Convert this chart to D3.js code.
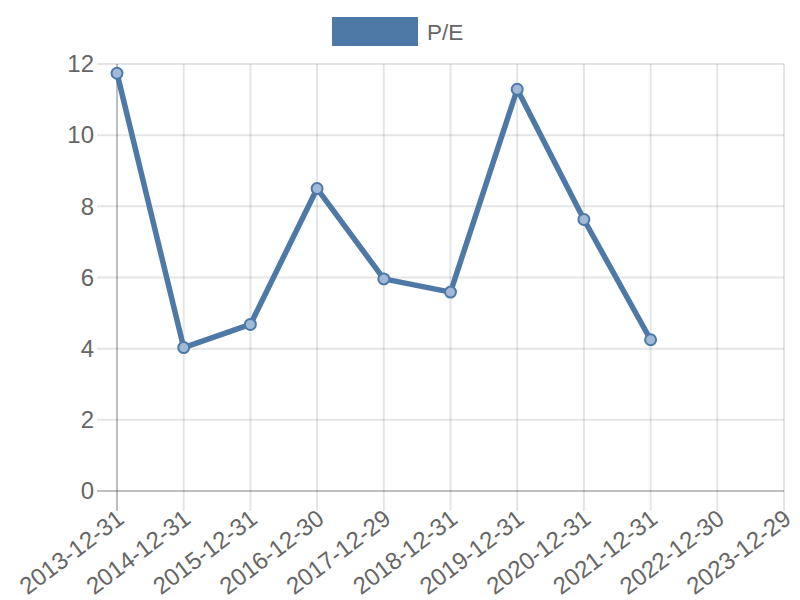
<!DOCTYPE html>
<html>
<head>
<meta charset="utf-8">
<script src="https://cdn.jsdelivr.net/npm/d3@7"></script>
<style>
  html, body { margin: 0; padding: 0; background: #fff; }
  svg { display: block; }
  text { font-family: "Liberation Sans", Arial, Helvetica, sans-serif; fill: #666; }
</style>
</head>
<body>
<svg id="chart" width="800" height="600"></svg>
<script>
const categories = ["2013-12-31","2014-12-31","2015-12-31","2016-12-30","2017-12-29","2018-12-31","2019-12-31","2020-12-31","2021-12-31","2022-12-30","2023-12-29"];
const peValues = [11.74, 4.03, 4.68, 8.50, 5.96, 5.59, 11.29, 7.63, 4.25, null, null];
const yTicks = [0, 2, 4, 6, 8, 10, 12];
const seriesName = "P/E";

(function () {
const color = "#4e79a7";
const pLeft = 117, pRight = 784, pTop = 64, pBottom = 491;

const svg = d3.select("#chart");
const x = d3.scalePoint().domain(categories).range([pLeft, pRight]);
const y = d3.scaleLinear().domain([0, 12]).range([pBottom, pTop]);

// grid
const grid = svg.append("g");
grid.selectAll("line.h").data(yTicks).join("line")
  .attr("x1", pLeft - 20).attr("x2", pRight)
  .attr("y1", d => y(d)).attr("y2", d => y(d))
  .attr("stroke", d => d === 0 ? "rgba(0,0,0,0.25)" : "rgba(0,0,0,0.1)")
  .attr("stroke-width", 2);
grid.selectAll("line.v").data(categories).join("line")
  .attr("x1", d => x(d)).attr("x2", d => x(d))
  .attr("y1", pTop).attr("y2", pBottom + 20)
  .attr("stroke", (d, i) => i === 0 ? "rgba(0,0,0,0.25)" : "rgba(0,0,0,0.1)")
  .attr("stroke-width", 2);

// y axis labels
const yAxis = d3.axisLeft(y).tickValues(yTicks).tickSize(0).tickPadding(0);
const yg = svg.append("g").attr("transform", `translate(${pLeft - 23},0)`).call(yAxis);
yg.select(".domain").remove();
yg.selectAll("text").attr("font-size", 24).attr("fill", "#666")
  .attr("font-family", "Liberation Sans, Arial, sans-serif");

// x axis labels
const xAxis = d3.axisBottom(x).tickSize(0).tickPadding(0);
const xg = svg.append("g").attr("transform", `translate(0,${pBottom + 24})`).call(xAxis);
xg.select(".domain").remove();
xg.selectAll("text")
  .attr("font-size", 24).attr("fill", "#666")
  .attr("font-family", "Liberation Sans, Arial, sans-serif")
  .attr("text-anchor", "end")
  .attr("dy", "0.35em")
  .attr("y", 0)
  .attr("transform", "translate(3,0) rotate(-37)");

// line
const defined = peValues.map((v, i) => ({ c: categories[i], v })).filter(d => d.v !== null);
const line = d3.line().x(d => x(d.c)).y(d => y(d.v));
svg.append("path").datum(defined)
  .attr("d", line).attr("fill", "none")
  .attr("stroke", color).attr("stroke-width", 5.5)
  .attr("stroke-linejoin", "round");

svg.append("g").selectAll("circle").data(defined).join("circle")
  .attr("cx", d => x(d.c)).attr("cy", d => y(d.v)).attr("r", 5.5)
  .attr("fill", "rgba(160,185,215,1)")
  .attr("stroke", color).attr("stroke-width", 2);

// legend
const lg = svg.append("g");
lg.append("rect").attr("x", 332).attr("y", 17).attr("width", 86).attr("height", 29)
  .attr("fill", color);
lg.append("text").attr("x", 427).attr("y", 32).attr("dy", "0.35em")
  .attr("font-size", 22.5).text(seriesName);
})();
</script>
</body>
</html>
